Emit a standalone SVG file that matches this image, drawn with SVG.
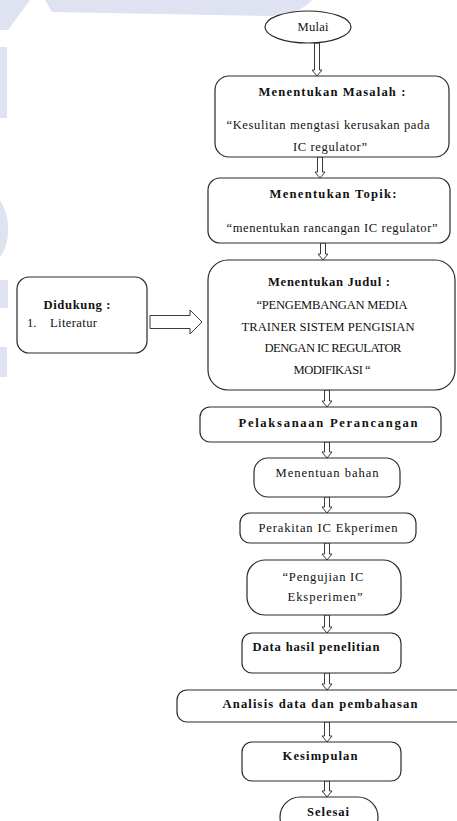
<svg xmlns="http://www.w3.org/2000/svg" width="457" height="821" viewBox="0 0 457 821" font-family="Liberation Serif, Times New Roman, serif">
<style>
.bg{fill:#ffffff}
.wm{fill:#dfe2f0}
.box{fill:#ffffff;stroke:#2a2a2a;stroke-width:1.2}
.arr{fill:#ffffff;stroke:#3a3a3a;stroke-width:1}
text{font-family:"Liberation Serif","Times New Roman",serif;font-size:12.6px;fill:#111111}
.b{font-weight:bold}
.m{text-anchor:middle}
</style>
<rect class="bg" x="0" y="0" width="457" height="821"/>
<g id="watermark">
<path class="wm" d="M0,0 H30 L8,30 H0 Z"/>
<path class="wm" d="M45,0 H312 Q300,14 272,16 L52,12 Z"/>
<rect class="wm" x="0" y="47" width="7" height="71"/>
<path class="wm" d="M0,200 Q9,215 8,230 Q8,248 0,257 Z"/>
<path class="wm" d="M0,280 H8 V308 H0 Z"/>
<path class="wm" d="M0,347 H7 V377 H0 Z"/>
</g>
<g id="connectors">
<path class="arr" d="M314.5,43 V70 H312 L317,76 L322,70 H319.5 V43 Z"/>
<path class="arr" d="M317.5,157 V172 H315 L320,178 L325,172 H322.5 V157 Z"/>
<path class="arr" d="M320.5,243 V254 H318 L323,260 L328,254 H325.5 V243 Z"/>
<path class="arr" d="M324.5,390 V401 H322 L327,407 L332,401 H329.5 V390 Z"/>
<path class="arr" d="M324.5,442 V452 H322 L327,458 L332,452 H329.5 V442 Z"/>
<path class="arr" d="M324.5,497 V507 H322 L327,513 L332,507 H329.5 V497 Z"/>
<path class="arr" d="M324.5,543 V554 H322 L327,560 L332,554 H329.5 V543 Z"/>
<path class="arr" d="M324.5,615 V627 H322 L327,633 L332,627 H329.5 V615 Z"/>
<path class="arr" d="M324.5,673 V684 H322 L327,690 L332,684 H329.5 V673 Z"/>
<path class="arr" d="M324.5,722 V736 H322 L327,742 L332,736 H329.5 V722 Z"/>
<path class="arr" d="M324.5,781 V791 H322 L327,797 L332,791 H329.5 V781 Z"/>
<path class="arr" d="M150,315.5 H190 V310 L202,322 L190,334 V328.5 H150 Z"/>
</g>
<g id="mulai">
<ellipse class="box" cx="308" cy="27" rx="43" ry="16"/>
<text class="m" x="313" y="31" textLength="31">Mulai</text>
</g>
<g id="masalah">
<rect class="box" x="215" y="76" width="234" height="81" rx="14"/>
<text class="m b" x="332" y="96" textLength="147">Menentukan Masalah :</text>
<text class="m" x="328" y="129" textLength="203">“Kesulitan mengtasi kerusakan pada</text>
<text class="m" x="330" y="151" textLength="74">IC regulator”</text>
</g>
<g id="topik">
<rect class="box" x="208" y="178" width="242" height="65" rx="12"/>
<text class="m b" x="333" y="198" textLength="127">Menentukan Topik:</text>
<text class="m" x="332" y="232" textLength="211">“menentukan rancangan IC regulator”</text>
</g>
<g id="didukung">
<rect class="box" x="17" y="277" width="130" height="76" rx="12"/>
<text class="m b" x="77" y="309" textLength="67">Didukung :</text>
<text x="27" y="327">1.</text>
<text x="50" y="327" textLength="47">Literatur</text>
</g>
<g id="judul">
<rect class="box" x="208" y="260" width="247" height="130" rx="20"/>
<text class="m b" x="329" y="286" textLength="122">Menentukan Judul :</text>
<text class="m" x="332" y="309" textLength="151">“PENGEMBANGAN MEDIA</text>
<text class="m" x="328" y="331" textLength="173">TRAINER SISTEM PENGISIAN</text>
<text class="m" x="333" y="352" textLength="137">DENGAN IC REGULATOR</text>
<text class="m" x="332" y="374" textLength="77">MODIFIKASI “</text>
</g>
<g id="pelaksanaan">
<rect class="box" x="200" y="407" width="241" height="35" rx="10"/>
<text class="m b" x="328" y="427" textLength="179">Pelaksanaan Perancangan</text>
</g>
<g id="bahan">
<rect class="box" x="254" y="458" width="146" height="39" rx="14"/>
<text class="m" x="327" y="477" textLength="103">Menentuan  bahan</text>
</g>
<g id="perakitan">
<rect class="box" x="240" y="513" width="176" height="30" rx="10"/>
<text class="m" x="328" y="532" textLength="139">Perakitan IC Ekperimen</text>
</g>
<g id="pengujian">
<rect class="box" x="247" y="560" width="154" height="55" rx="18"/>
<text class="m" x="323" y="581" textLength="81">“Pengujian IC</text>
<text class="m" x="325" y="601" textLength="75">Eksperimen”</text>
</g>
<g id="datahasil">
<rect class="box" x="242" y="633" width="159" height="40" rx="10"/>
<text class="m b" x="316" y="651" textLength="127">Data hasil penelitian</text>
</g>
<g id="analisis">
<rect class="box" x="177" y="690" width="300" height="32" rx="10"/>
<text class="m b" x="320" y="708" textLength="195">Analisis data dan pembahasan</text>
</g>
<g id="kesimpulan">
<rect class="box" x="242" y="742" width="159" height="39" rx="10"/>
<text class="m b" x="320" y="760" textLength="75">Kesimpulan</text>
</g>
<g id="selesai">
<rect class="box" x="280" y="797" width="98" height="40" rx="20"/>
<text class="m b" x="328" y="816" textLength="42">Selesai</text>
</g>
</svg>
